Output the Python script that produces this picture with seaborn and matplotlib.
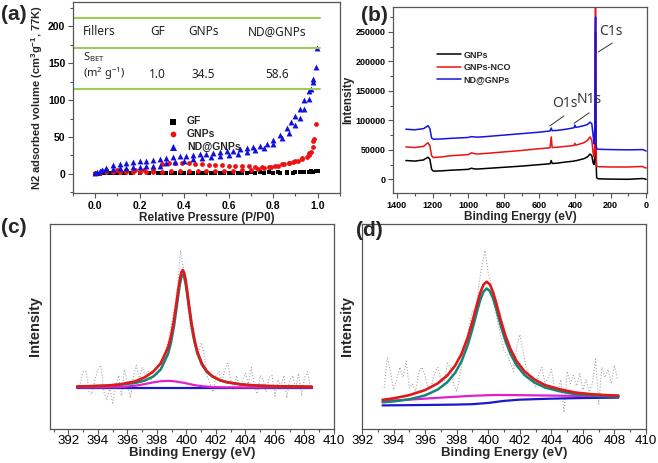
import matplotlib
matplotlib.use('Agg')
import matplotlib.pyplot as plt
from matplotlib.ticker import MultipleLocator, FormatStrFormatter
import seaborn as sns

# ---------------- (a) N2 adsorption isotherms ----------------
gf_x = [0.0, 0.01, 0.02, 0.04, 0.06, 0.08, 0.1, 0.13, 0.16, 0.2, 0.24, 0.28, 0.32, 0.36,
        0.4, 0.44, 0.48, 0.52, 0.56, 0.6, 0.64, 0.68, 0.72, 0.76, 0.8, 0.83, 0.86, 0.89,
        0.92, 0.94, 0.96, 0.98, 0.99, 1.0]
gf_y = [0.2, 0.3, 0.4, 0.5, 0.5, 0.6, 0.6, 0.6, 0.7, 0.7, 0.7, 0.8, 0.8, 0.8,
        0.9, 0.9, 0.9, 1.0, 1.0, 1.0, 1.1, 1.1, 1.2, 1.2, 1.3, 1.4, 1.5, 1.7,
        1.9, 2.1, 2.4, 2.9, 3.4, 4.0]
gf_des_x = [0.3, 0.34, 0.38, 0.42, 0.46, 0.5, 0.54, 0.58, 0.62, 0.66, 0.7, 0.74, 0.78,
            0.82, 0.86, 0.9, 0.94, 0.97]
gf_des_y = [1.3, 1.3, 1.4, 1.4, 1.5, 1.5, 1.6, 1.6, 1.7, 1.7, 1.8, 1.8, 1.9,
            2.0, 2.1, 2.3, 2.6, 3.2]

gnp_x = [0.0, 0.02, 0.05, 0.08, 0.11, 0.14, 0.17, 0.2, 0.23, 0.26, 0.3, 0.34, 0.38,
         0.42, 0.46, 0.5, 0.54, 0.58, 0.62, 0.66, 0.7, 0.73, 0.76, 0.79, 0.82, 0.85,
         0.87, 0.89, 0.91, 0.93, 0.95, 0.96, 0.97, 0.98, 0.985, 0.99]
gnp_y = [0.5, 1.5, 2.0, 2.3, 2.5, 2.6, 2.7, 2.8, 2.9, 3.0, 3.1, 3.2, 3.3,
         3.4, 3.5, 3.6, 3.8, 4.0, 4.2, 4.5, 5.0, 6.0, 7.5, 9.0, 11.0, 13.0,
         14.0, 15.5, 17.0, 19.5, 23.0, 26.0, 30.0, 36.0, 47.0, 67.0]
gnp_des_x = [0.05, 0.1, 0.14, 0.18, 0.22, 0.26, 0.3, 0.33, 0.36, 0.39, 0.42, 0.45, 0.48,
             0.51, 0.54, 0.57, 0.6, 0.63, 0.66, 0.69, 0.72, 0.75, 0.78, 0.81, 0.84,
             0.87, 0.9, 0.93, 0.96, 0.98]
gnp_des_y = [5.0, 5.2, 5.4, 5.5, 5.6, 5.8, 13.0, 14.0, 14.5, 14.5, 14.0, 13.5, 13.0,
             12.5, 12.0, 11.5, 11.0, 10.5, 10.2, 10.0, 9.8, 9.6, 9.8, 11.0, 13.0,
             15.0, 18.0, 21.0, 28.0, 45.0]

nd_x = [0.0, 0.01, 0.02, 0.03, 0.05, 0.08, 0.11, 0.14, 0.17, 0.2, 0.23, 0.26, 0.29,
        0.32, 0.36, 0.4, 0.44, 0.48, 0.52, 0.56, 0.6, 0.64, 0.68, 0.72, 0.76, 0.8,
        0.84, 0.87, 0.9, 0.92, 0.94, 0.96, 0.97, 0.98, 0.99, 0.995]
nd_y = [1.5, 3, 4, 5, 6, 7, 8, 8.5, 9, 9.5, 10, 10.5, 11,
        14, 16, 18, 20, 21.5, 23, 24.5, 26, 27.5, 29.5, 32, 35, 40,
        48, 56, 66, 76, 88, 102, 115, 128, 145, 170]
nd_des_x = [0.03, 0.05, 0.08, 0.11, 0.14, 0.17, 0.2, 0.23, 0.26, 0.29, 0.32, 0.35, 0.38,
            0.41, 0.44, 0.47, 0.5, 0.53, 0.56, 0.59, 0.62, 0.65, 0.68, 0.71, 0.74,
            0.77, 0.8, 0.83, 0.86, 0.88, 0.9, 0.92, 0.94, 0.96, 0.98]
nd_des_y = [5, 8, 12, 13.5, 15, 16, 17, 18, 19, 20, 21.5, 22.5, 23.5,
            24.5, 25.5, 26.5, 27.5, 28.5, 29.5, 30.5, 31.5, 33, 34.5, 36, 38,
            41, 46, 53, 62, 70, 78, 88, 100, 112, 125]

table_cols = ['GF', 'GNPs', 'ND@GNPs']
table_bet = ['1.0', '34.5', '58.6']

# ---------------- (b) XPS survey ----------------
xps_x = [1350, 1300, 1250, 1235, 1225, 1215, 1205, 1195, 1150, 1100, 1000, 980, 970,
         950, 900, 800, 700, 600, 540, 533, 528, 500, 450, 405, 400, 395, 350, 330,
         315, 305, 298, 292, 288, 285, 284, 283, 281, 278, 270, 200, 100, 20, 10, 0]
xps_gnps = [32000, 31000, 33000, 36000, 37500, 34000, 17000, 14000, 14500, 15500, 17000,
            19000, 18000, 17500, 18500, 20500, 22500, 25000, 26500, 32000, 27000, 27500,
            29500, 31000, 31800, 31600, 35000, 38000, 43000, 40000, 28000, 25000, 40000,
            200000, 250000, 150000, 30000, 3000, 1000, 500, 200, 1500, 1000, 0]
xps_nco = [55000, 54000, 56000, 60000, 62000, 57000, 40000, 37000, 38000, 40000, 42000,
           45000, 44000, 43000, 44000, 46500, 49000, 52000, 53500, 72000, 54000, 54500,
           56000, 57500, 61000, 58000, 62000, 66000, 72000, 66000, 45000, 38000, 60000,
           300000, 320000, 200000, 40000, 23000, 21500, 21000, 21000, 22000, 20000, 19500]
xps_nd = [85000, 84000, 86000, 89000, 91000, 86000, 70000, 68000, 68500, 69500, 71000,
          72500, 72000, 71500, 72500, 75000, 77500, 80000, 82000, 87000, 82500, 83000,
          85000, 87500, 92000, 88000, 91000, 93000, 97000, 94000, 75000, 60000, 90000,
          250000, 275000, 180000, 60000, 52000, 51000, 50500, 50000, 50500, 49500, 48000]
peak_names = ['O1s', 'N1s', 'C1s']
peak_text_x = [458, 318, 197]
peak_text_y = [129000, 135000, 251000]
peak_line_x = [(541, 461), (405, 320), (268, 190)]
peak_line_y = [(90600, 107600), (95000, 112700), (216000, 231000)]

# ---------------- (c) N1s high resolution ----------------
c_raw_x = [392.8, 393.0, 393.2, 393.4, 393.6, 393.8, 394.0, 394.2, 394.4, 394.6, 394.8,
           395.0, 395.2, 395.4, 395.6, 395.8, 396.0, 396.2, 396.4, 396.6, 396.8, 397.0,
           397.2, 397.4, 397.6, 397.8, 398.0, 398.2, 398.4, 398.6, 398.8, 399.0, 399.2,
           399.4, 399.6, 399.8, 400.0, 400.2, 400.4, 400.6, 400.8, 401.0, 401.2, 401.4,
           401.6, 401.8, 402.0, 402.2, 402.4, 402.6, 402.8, 403.0, 403.2, 403.4, 403.6,
           403.8, 404.0, 404.2, 404.4, 404.6, 404.8, 405.0, 405.2, 405.4, 405.6, 405.8,
           406.0, 406.2, 406.4, 406.6, 406.8, 407.0, 407.2, 407.4, 407.6, 407.8, 408.0,
           408.2, 408.4]
c_raw_y = [22, 28, 28, 18, 17, 24, 29, 31, 18, 14, 20, 12, 21, 26, 16, 29, 22, 15, 25,
           31, 24, 30, 26, 28, 24, 29, 26, 33, 30, 38, 44, 52, 60, 70, 87, 78, 66, 52,
           45, 40, 37, 42, 36, 26, 22, 18, 26, 28, 23, 29, 32, 24, 19, 26, 20, 24, 27,
           22, 30, 21, 17, 26, 24, 18, 25, 26, 16, 24, 21, 26, 15, 24, 26, 20, 27, 16,
           25, 28, 20]
c_fit_x = [392.6, 393.5, 394.5, 395.5, 396.5, 397.2, 397.75, 398.25, 398.75, 398.95,
           399.15, 399.35, 399.45, 399.55, 399.65, 399.75, 399.85, 399.95, 400.05,
           400.15, 400.35, 400.55, 400.75, 401.05, 401.35, 401.75, 402.25, 402.75,
           403.75, 404.75, 405.75, 406.75, 407.75, 408.5]
c_envelope = [20.65, 20.8, 21.05, 21.65, 23.1, 25.2, 27.95, 31.9, 39.7, 45.2, 52.9, 62.9,
              68.2, 72.9, 76.35, 77.5, 76.1, 72.4, 67.4, 61.8, 51.3, 43.2, 37.4, 31.8,
              28.4, 25.7, 23.8, 22.7, 21.6, 21.1, 20.8, 20.7, 20.6, 20.5]
c_main = [20.65, 20.8, 21.0, 21.5, 22.3, 23.6, 25.5, 28.9, 36.5, 42.1, 49.9, 60.1, 65.5,
          70.4, 73.9, 75.2, 73.9, 70.4, 65.5, 60.1, 49.9, 42.1, 36.5, 31.2, 28.0, 25.5,
          23.7, 22.7, 21.6, 21.1, 20.8, 20.7, 20.6, 20.5]
c_minor = [20.2, 20.21, 20.25, 20.35, 20.97, 21.84, 22.65, 23.2, 23.4, 23.3, 23.2, 23.0,
           22.9, 22.7, 22.65, 22.5, 22.4, 22.2, 22.1, 21.9, 21.6, 21.3, 21.1, 20.8, 20.6,
           20.4, 20.28, 20.2, 20.2, 20.2, 20.2, 20.2, 20.2, 20.2]
c_base_x = [392.6, 408.5]
c_base_y = [20.0, 20.0]

# ---------------- (d) N1s high resolution ----------------
d_raw_x = [393.4, 393.6, 393.8, 394.0, 394.2, 394.4, 394.6, 394.8, 395.0, 395.2, 395.4,
           395.6, 395.8, 396.0, 396.2, 396.4, 396.6, 396.8, 397.0, 397.2, 397.4, 397.6,
           397.8, 398.0, 398.2, 398.4, 398.6, 398.8, 399.0, 399.2, 399.4, 399.6, 399.8,
           400.0, 400.2, 400.4, 400.6, 400.8, 401.0, 401.2, 401.4, 401.6, 401.8, 402.0,
           402.2, 402.4, 402.6, 402.8, 403.0, 403.2, 403.4, 403.6, 403.8, 404.0, 404.2,
           404.4, 404.6, 404.8, 405.0, 405.2, 405.4, 405.6, 405.8, 406.0, 406.2, 406.4,
           406.6, 406.8, 407.0, 407.2, 407.4, 407.6, 407.8, 408.0, 408.2]
d_raw_y = [20, 35, 28, 19, 24, 30, 25, 33, 20, 22, 18, 28, 30, 26, 19, 21, 27, 30, 24,
           22, 32, 30, 22, 18, 26, 34, 42, 50, 58, 55, 70, 80, 87, 76, 70, 60, 52, 45,
           38, 36, 32, 28, 40, 46, 38, 30, 26, 24, 20, 27, 30, 22, 25, 29, 20, 18, 24,
           8, 28, 22, 26, 21, 27, 19, 24, 18, 22, 34, 12, 30, 25, 29, 22, 31, 24]
d_fit_x = [393.3, 394, 395, 396, 396.8, 397.4, 397.9, 398.3, 398.7, 399.0, 399.3, 399.5,
           399.7, 399.9, 400.1, 400.3, 400.5, 400.8, 401.1, 401.4, 401.8, 402.3, 402.9,
           403.6, 404.5, 405.5, 406.5, 407.5, 408.25]
d_envelope = [14.1, 14.85, 16.4, 18.9, 22.15, 26.0, 30.8, 36.45, 44.6, 52.5, 61.2, 66.55,
              70.4, 71.8, 70.5, 66.8, 61.6, 52.9, 45.2, 39.1, 33.0, 28.0, 24.2, 21.3,
              19.35, 17.7, 16.9, 16.4, 16.2]
d_main = [12.9, 13.35, 14.4, 16.3, 19.15, 22.7, 27.3, 32.85, 40.9, 48.8, 57.6, 63.05,
          67.0, 68.5, 67.3, 63.7, 58.6, 50.1, 42.6, 36.7, 30.9, 26.2, 22.7, 20.1, 18.35,
          16.9, 16.3, 15.9, 15.7]
d_minor_x = [393.3, 395, 397, 399, 400.5, 402, 404, 406, 408.25]
d_minor_y = [13.5, 14.2, 15.2, 16.1, 16.5, 16.4, 16.2, 16.0, 15.9]
d_base_x = [393.3, 396, 398, 399, 400, 401, 402, 404, 406, 408.25]
d_base_y = [11.4, 11.6, 11.8, 12.0, 12.6, 13.6, 14.2, 14.7, 15.0, 15.2]

sns.set_theme(style='ticks')
plt.rcParams['font.family'] = ['Liberation Sans', 'DejaVu Sans']
plt.rcParams['mathtext.default'] = 'regular'

SPINE = '#555555'


def frame(ax, size, bold=True):
    for sp in ax.spines.values():
        sp.set_color(SPINE)
        sp.set_linewidth(0.9)
    ax.tick_params(which='both', direction='out', colors=SPINE, labelcolor='black',
                   labelsize=size, width=0.8, pad=2)
    ax.tick_params(which='major', length=3.5)
    ax.tick_params(which='minor', length=2)
    for lab in ax.get_xticklabels() + ax.get_yticklabels():
        lab.set_fontweight('bold' if bold else 'normal')


fig = plt.figure(figsize=(6.58, 4.63), dpi=100)

# ---- (a) ----
ax = fig.add_axes([0.1109, 0.5832, 0.4058, 0.4125])
sns.scatterplot(x=gf_x, y=gf_y, ax=ax, marker='s', color='black', s=10, linewidth=0, label='GF')
sns.scatterplot(x=gf_des_x, y=gf_des_y, ax=ax, marker='s', color='black', s=10, linewidth=0)
sns.scatterplot(x=gnp_x, y=gnp_y, ax=ax, marker='o', color='#ee1111', s=12, linewidth=0, label='GNPs')
sns.scatterplot(x=gnp_des_x, y=gnp_des_y, ax=ax, marker='o', color='#ee1111', s=12, linewidth=0)
sns.scatterplot(x=nd_x, y=nd_y, ax=ax, marker='^', color='#1010dd', s=18, linewidth=0, label='ND@GNPs')
sns.scatterplot(x=nd_des_x, y=nd_des_y, ax=ax, marker='^', color='#1010dd', s=18, linewidth=0)
ax.set_xlim(-0.1, 1.1)
ax.set_ylim(-26, 233)
ax.xaxis.set_major_locator(MultipleLocator(0.2))
ax.xaxis.set_minor_locator(MultipleLocator(0.1))
ax.xaxis.set_major_formatter(FormatStrFormatter('%.1f'))
ax.yaxis.set_major_locator(MultipleLocator(50))
ax.yaxis.set_minor_locator(MultipleLocator(25))
frame(ax, 7.5)
ax.set_xlabel('Relative Pressure (P/P0)', fontsize=8.5, fontweight='bold', labelpad=1)
ax.set_ylabel('N2 adsorbed volume (cm$^{3}$g$^{-1}$, 77K)', fontsize=8, fontweight='bold', labelpad=2)
for yl in [211, 170, 115]:
    ax.plot([-0.095, 1.01], [yl, yl], color='#9acd4f', lw=1.4)
tfont = dict(family=['Noto Sans', 'DejaVu Sans'], fontsize=8.5, color='#222222')
ax.text(-0.055, 193, 'Fillers', ha='left', va='center', **tfont)
for xc, name, val in zip([0.28, 0.485, 0.816], table_cols, table_bet):
    ax.text(xc, 193, name, ha='center', va='center', **tfont)
    ax.text(xc, 135, val, ha='center', va='center', **tfont)
ax.text(-0.055, 158, 'S$_{BET}$', ha='left', va='center', family=['Noto Sans', 'DejaVu Sans'],
        fontsize=8, color='#222222')
ax.text(-0.055, 136, '(m$^{2}$ g$^{-1}$)', ha='left', va='center', family=['Noto Sans', 'DejaVu Sans'],
        fontsize=8, color='#222222')
ax.legend(loc='upper left', bbox_to_anchor=(0.31, 0.44), frameon=False,
          prop=dict(size=7.5, weight='bold'), handletextpad=0.3, labelspacing=0.25,
          borderpad=0.2, markerscale=1.2)

# ---- (b) ----
ax = fig.add_axes([0.5973, 0.5832, 0.386, 0.4017])
sns.lineplot(x=xps_x, y=xps_gnps, ax=ax, color='black', lw=1.1, sort=False, estimator=None, label='GNPs')
sns.lineplot(x=xps_x, y=xps_nco, ax=ax, color='#ee1111', lw=1.1, sort=False, estimator=None, label='GNPs-NCO')
sns.lineplot(x=xps_x, y=xps_nd, ax=ax, color='#1515e0', lw=1.1, sort=False, estimator=None, label='ND@GNPs')
ax.set_xlim(1422, -5)
ax.set_ylim(-23000, 292000)
ax.xaxis.set_major_locator(MultipleLocator(200))
ax.xaxis.set_minor_locator(MultipleLocator(100))
ax.yaxis.set_major_locator(MultipleLocator(50000))
ax.yaxis.set_minor_locator(MultipleLocator(25000))
frame(ax, 6.5)
ax.set_xlabel('Binding Energy (eV)', fontsize=8.5, fontweight='bold', labelpad=1)
ax.set_ylabel('Intensity', fontsize=8.5, fontweight='bold', labelpad=1)
afont = dict(family=['Noto Sans', 'DejaVu Sans'], fontsize=10, color='#333333')
for name, tx, ty, lx, ly in zip(peak_names, peak_text_x, peak_text_y, peak_line_x, peak_line_y):
    ax.text(tx, ty, name, ha='center', va='center', **afont)
    ax.plot(lx, ly, color='#333333', lw=0.7)
ax.legend(loc='upper left', bbox_to_anchor=(0.15, 0.8), frameon=False,
          prop=dict(size=6.5, weight='bold'), handlelength=2.6, handletextpad=0.3,
          labelspacing=0.35, borderpad=0.2)

# ---- (c) and (d) ----
panels = [
    ([0.076, 0.074, 0.4316, 0.4422], (390.75, 410), c_raw_x, c_raw_y, c_fit_x,
     c_envelope, c_main, c_fit_x, c_minor, c_base_x, c_base_y),
    ([0.5502, 0.074, 0.4316, 0.4422], (392, 410), d_raw_x, d_raw_y, d_fit_x,
     d_envelope, d_main, d_minor_x, d_minor_y, d_base_x, d_base_y),
]
for rect, xlim, rx, ry, fx, env, main, mx, my, bx, by in panels:
    ax = fig.add_axes(rect)
    sns.lineplot(x=rx, y=ry, ax=ax, color='#a8a8a8', lw=0.8, ls=':', sort=False, estimator=None)
    sns.lineplot(x=bx, y=by, ax=ax, color='#1a1acc', lw=1.6, sort=False, estimator=None)
    sns.lineplot(x=mx, y=my, ax=ax, color='#e020d0', lw=1.6, sort=False, estimator=None)
    sns.lineplot(x=fx, y=main, ax=ax, color='#138577', lw=1.8, sort=False, estimator=None)
    sns.lineplot(x=fx, y=env, ax=ax, color='#e01818', lw=1.9, sort=False, estimator=None)
    ax.set_xlim(*xlim)
    ax.set_ylim(0, 100)
    ax.set_yticks([])
    ax.xaxis.set_major_locator(MultipleLocator(2))
    ax.xaxis.set_minor_locator(MultipleLocator(1))
    frame(ax, 9.5, bold=False)
    ax.tick_params(axis='x', pad=1)
    ax.set_xlabel('Binding Energy (eV)', fontsize=9.5, fontweight='bold', labelpad=0)
    ax.set_ylabel('Intensity', fontsize=10.5, fontweight='bold', labelpad=6)

pfont = dict(family=['Liberation Sans', 'DejaVu Sans'], fontsize=15, fontweight='bold',
             va='center', ha='left')
fig.text(0.002, 0.968, '(a)', **pfont)
fig.text(0.549, 0.966, '(b)', **pfont)
fig.text(0.002, 0.508, '(c)', **pfont)
fig.text(0.541, 0.503, '(d)', **pfont)

fig.savefig('out.png', dpi=100)
